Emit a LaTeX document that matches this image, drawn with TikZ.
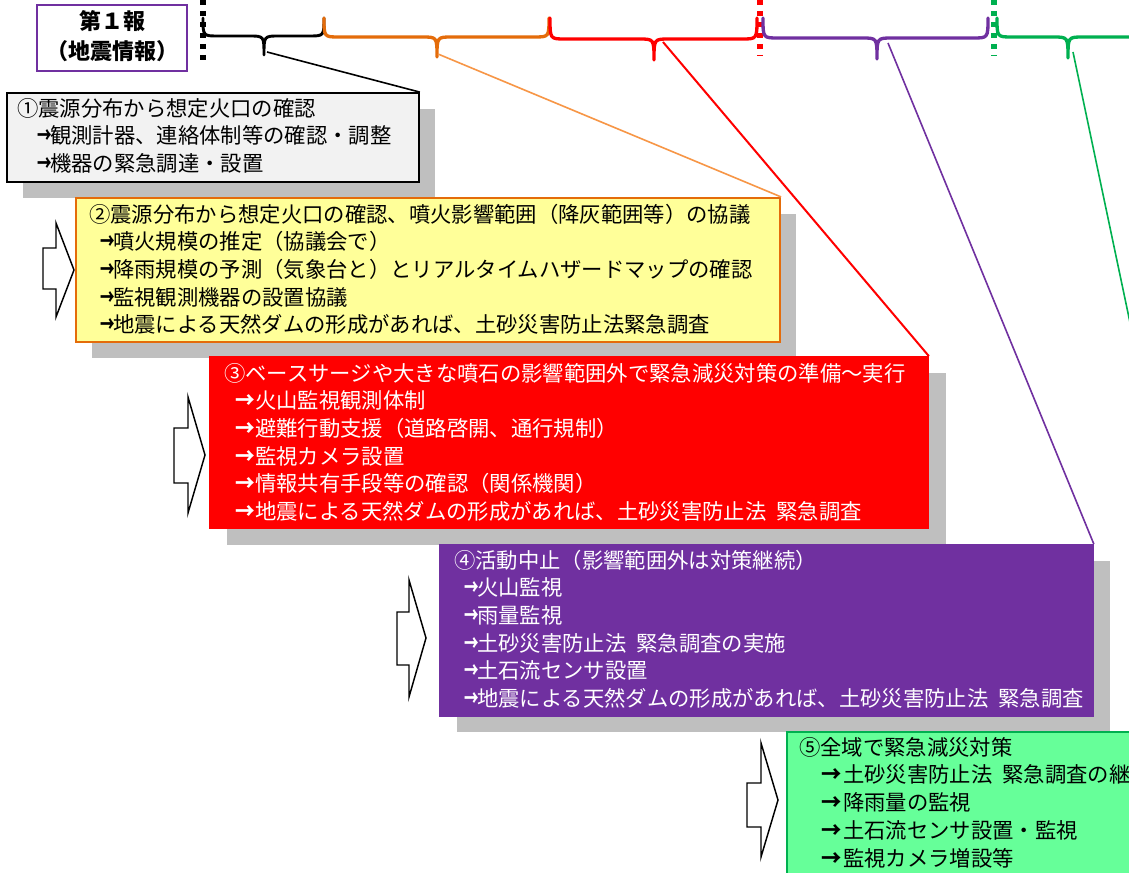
\documentclass[tikz,border=0pt]{standalone}
\usepackage{graphicx}
\usepackage{fontspec}
\newfontfamily\jpfont{Noto Sans CJK JP}
\usetikzlibrary{fit}
\definecolor{cOrange}{HTML}{E46C0A}
\definecolor{cOrangeL}{HTML}{F79646}
\definecolor{cRed}{HTML}{FF0000}
\definecolor{cPurple}{HTML}{7030A0}
\definecolor{cGreen}{HTML}{00B050}
\definecolor{cGreenF}{HTML}{66FF99}
\definecolor{cYellow}{HTML}{FFFF99}
\definecolor{cGrayF}{HTML}{F2F2F2}
\definecolor{cShadow}{HTML}{BFBFBF}
\newlength{\pxu}\setlength{\pxu}{0.75pt}
\newcommand{\subarr}[3]{\hspace*{#1\pxu}\makebox[#2\pxu][l]{\scalebox{#3}[1.05]{\bfseries →}}}
\newcommand{\hsp}{\hspace{10\pxu}}
\newcommand{\curlybrace}[7]{%
  \draw[#1] (#2,#4) .. controls (#2,#5) and (#2,#5) .. ({#2+15},#5)
    -- ({#6-15},#5) .. controls (#6,#5) and (#6,#5) .. (#6,#7)
    .. controls (#6,#5) and (#6,#5) .. ({#6+15},#5)
    -- ({#3-15},#5) .. controls (#3,#5) and (#3,#5) .. (#3,#4);}
\tikzset{
  boxbase/.style={inner sep=0pt, line width=1.3pt},
  shadowbox/.style={inner sep=0pt, fill=cShadow, draw=none},
  txt/.style={font=\jpfont\fontsize{16}{20.8}\selectfont, align=left, inner sep=0pt, anchor=base west},
  blockarr/.style={draw=black, fill=white, line width=1.1pt, line join=miter},
  bracestyle/.style={line width=2.5pt, line join=round, line cap=round},
  dotline/.style={line width=4.2pt, dash pattern=on 5\pxu off 6\pxu},
  conn/.style={line width=1.2pt},
}
\begin{document}
\begin{tikzpicture}[x=0.75pt,y=-0.75pt]
\useasboundingbox (0,0) rectangle (1129,873);
\clip (0,0) rectangle (1129,873);
\fill[white] (0,0) rectangle (1129,873);

% title box
\node[fit={(37,5)(187,71)}, inner sep=0pt, draw=cPurple, fill=white, line width=1.5pt] (tb) {};
\node[font=\jpfont\bfseries\fontsize{16.5}{22.5}\selectfont, align=center, anchor=base, inner sep=0pt] (title) at (112,60) {第１報\\（地震情報）};

% box 1 (text node anchored at baseline of its last line)
\node[fit={(23,109)(435,198)}, shadowbox] (s1) {};
\node[fit={(7,93)(419,182)}, boxbase, draw=black, fill=cGrayF] (b1) {};
\node[txt, text=black] (t1) at (17,171.5) {①震源分布から想定火口の確認\\
\subarr{20}{13}{0.68}観測計器、連絡体制等の確認・調整\\
\subarr{20}{13}{0.68}機器の緊急調達・設置};

% box 2
\node[fit={(92,214)(796,358)}, shadowbox] (s2) {};
\node[fit={(76,198)(780,342)}, boxbase, draw=cOrange, fill=cYellow, line width=1.6pt] (b2) {};
\node[txt, text=black] (t2) at (89,333) {②震源分布から想定火口の確認、噴火影響範囲（降灰範囲等）の協議\\
\subarr{11}{13}{0.68}噴火規模の推定（協議会で）\\
\subarr{11}{13}{0.68}降雨規模の予測（気象台と）とリアルタイムハザードマップの確認\\
\subarr{11}{13}{0.68}監視観測機器の設置協議\\
\subarr{11}{13}{0.68}地震による天然ダムの形成があれば、土砂災害防止法緊急調査};

% box 3
\node[fit={(227,373)(946,545)}, shadowbox] (s3) {};
\node[fit={(210,357)(928,528)}, boxbase, draw=cRed, fill=cRed] (b3) {};
\node[txt, text=white] (t3) at (224,519.7) {③ベースサージや大きな噴石の影響範囲外で緊急減災対策の準備～実行\\
\subarr{11}{20}{0.92}火山監視観測体制\\
\subarr{11}{20}{0.92}避難行動支援（道路啓開、通行規制）\\
\subarr{11}{20}{0.92}監視カメラ設置\\
\subarr{11}{20}{0.92}情報共有手段等の確認（関係機関）\\
\subarr{11}{20}{0.92}地震による天然ダムの形成があれば、土砂災害防止法\hsp 緊急調査};

% box 4
\node[fit={(457,561)(1110,732)}, shadowbox] (s4) {};
\node[fit={(440,545)(1093,716)}, boxbase, draw=cPurple, fill=cPurple] (b4) {};
\node[txt, text=white] (t4) at (454,706.7) {④活動中止（影響範囲外は対策継続）\\
\subarr{10}{13}{0.68}火山監視\\
\subarr{10}{13}{0.68}雨量監視\\
\subarr{10}{13}{0.68}土砂災害防止法\hsp 緊急調査の実施\\
\subarr{10}{13}{0.68}土石流センサ設置\\
\subarr{10}{13}{0.68}地震による天然ダムの形成があれば、土砂災害防止法\hsp 緊急調査};

% box 5
\node[fit={(787,732)(1215,900)}, boxbase, draw=cGreen, fill=cGreenF, line width=1.6pt] (b5) {};
\node[txt, text=black] (t5) at (799,866) {⑤全域で緊急減災対策\\
\subarr{22}{22}{0.95}土砂災害防止法\hsp 緊急調査の継続\\
\subarr{22}{22}{0.95}降雨量の監視\\
\subarr{22}{22}{0.95}土石流センサ設置・監視\\
\subarr{22}{22}{0.95}監視カメラ増設等};

% block arrows
\draw[blockarr] (43,248) -- (56,248) -- (56,223) -- (74,270) -- (56,317) -- (56,289) -- (43,289) -- cycle;
\draw[blockarr] (174,428) -- (188,428) -- (188,397) -- (205,455) -- (188,513) -- (188,483) -- (174,483) -- cycle;
\draw[blockarr] (397,612) -- (409,612) -- (409,580) -- (426,638) -- (409,697) -- (409,665) -- (397,665) -- cycle;
\draw[blockarr] (747,783) -- (761,783) -- (761,743) -- (778,800) -- (761,857) -- (761,827) -- (747,827) -- cycle;

% dotted separators
\draw[dotline, black] (203,0) -- (203,63);
\draw[dotline, cRed] (760,0) -- (760,56);
\draw[dotline, cGreen] (994,0) -- (994,56);

% braces
\curlybrace{bracestyle, black, line width=2.2pt}{203}{324}{18}{36}{264}{55}
\curlybrace{bracestyle, cOrange}{324}{549}{18}{37}{437}{57}
\curlybrace{bracestyle, cRed}{550}{757}{18}{39}{654}{60}
\curlybrace{bracestyle, cPurple}{763}{988}{18}{38}{877}{59}
\curlybrace{bracestyle, cGreen}{997}{1140}{18}{37}{1068}{58}

% connector start points
\coordinate (c1) at (267,52);
\coordinate (c2) at (438,54);
\coordinate (c3) at (663,42);
\coordinate (c4) at (888,43);
\coordinate (c5) at (1073,52);

% connectors
\draw[conn, black] (c1) -- (b1.north east);
\draw[conn, cOrangeL] (c2) -- (b2.north east);
\draw[conn, cRed, line width=1.5pt] (c3) -- (b3.north east);
\draw[conn, cPurple] (c4) -- (b4.north east);
\draw[conn, cGreen] (c5) -- (b5.north east);
\end{tikzpicture}
\end{document}
